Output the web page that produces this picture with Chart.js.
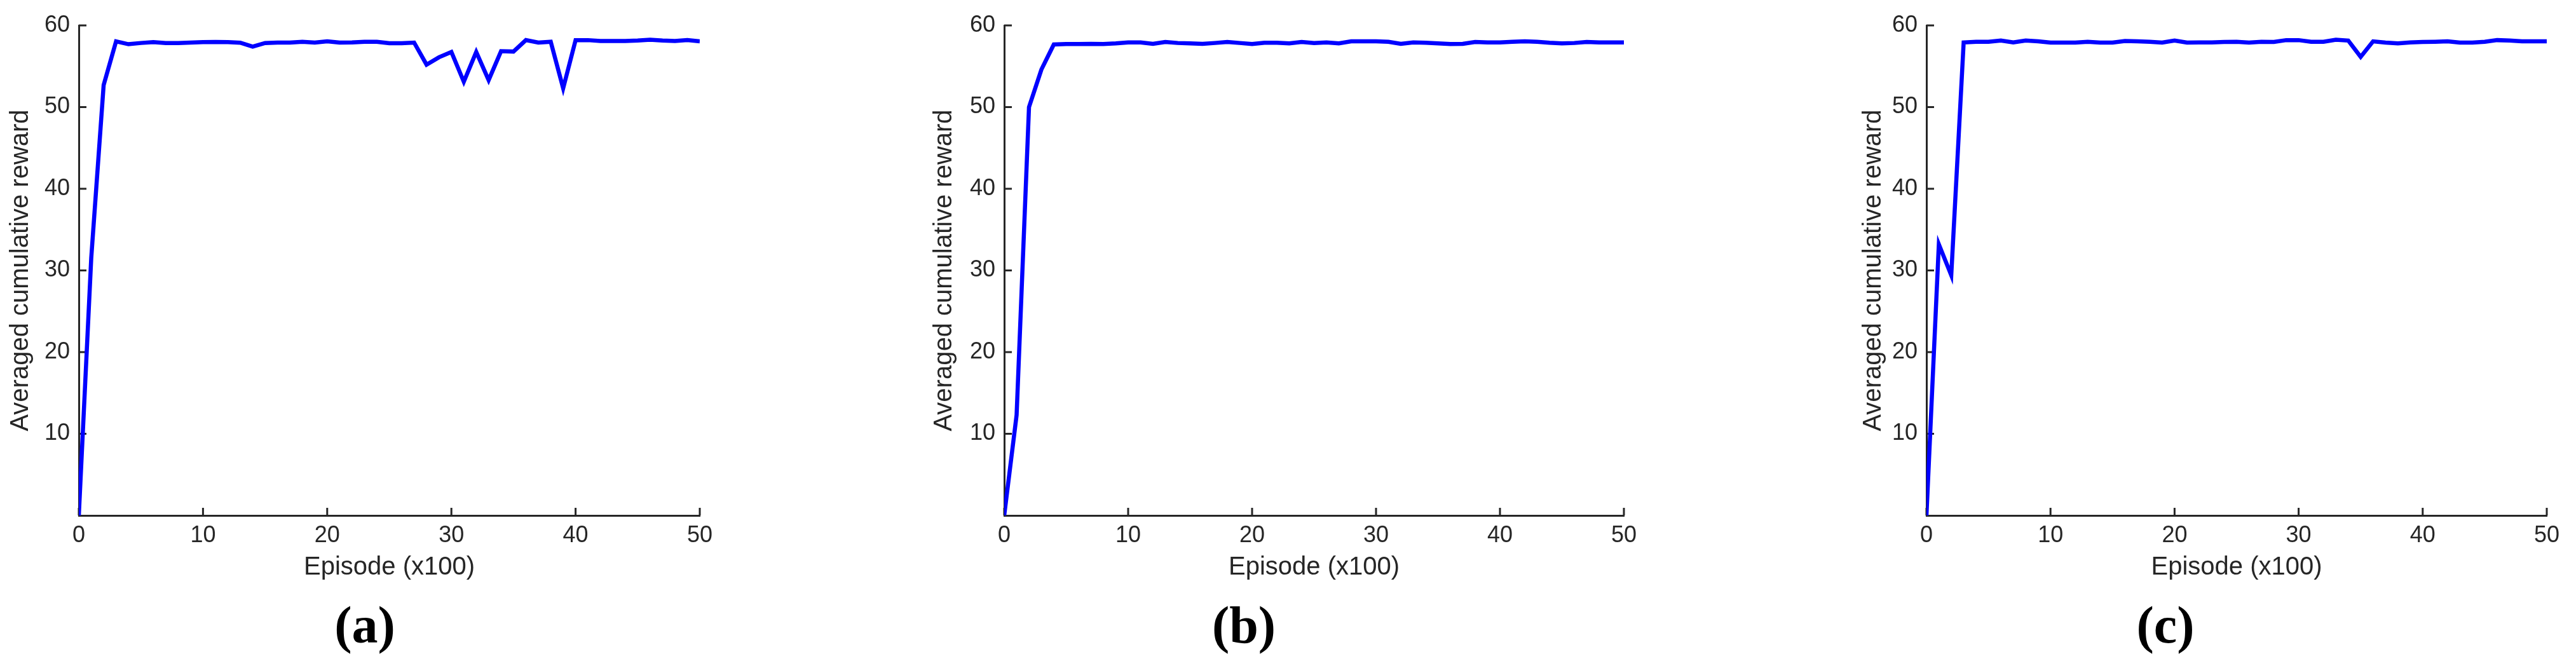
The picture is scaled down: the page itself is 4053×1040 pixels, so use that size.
<!DOCTYPE html>
<html>
<head>
<meta charset="utf-8">
<script src="https://cdn.jsdelivr.net/npm/chart.js@4.4.1/dist/chart.umd.min.js"></script>
<style>
  html, body { margin: 0; padding: 0; background: #fff; }
  #page { position: relative; width: 4053px; height: 1040px; overflow: hidden; }
  canvas { position: absolute; top: 0; }
  .caption {
    position: absolute; top: 934px; width: 200px; margin-left: -100px;
    text-align: center; font-family: "Liberation Serif", "Times New Roman", serif;
    font-weight: bold; font-size: 82px; line-height: 100px; color: #000;
  }
</style>
</head>
<body>
<div id="page">
  <canvas id="chartA" width="1180" height="1040" style="left:0px"></canvas>
  <canvas id="chartB" width="1180" height="1040" style="left:1420px"></canvas>
  <canvas id="chartC" width="1183" height="1040" style="left:2870px"></canvas>
  <div class="caption" style="left:574px">(a)</div>
  <div class="caption" style="left:1957px">(b)</div>
  <div class="caption" style="left:3407px">(c)</div>
</div>
<script>
// episode index, in units of 100 episodes
const episodes = [0, 1, 2, 3, 4, 5, 6, 7, 8, 9, 10, 11, 12, 13, 14, 15, 16, 17, 18, 19, 20,
  21, 22, 23, 24, 25, 26, 27, 28, 29, 30, 31, 32, 33, 34, 35, 36, 37, 38, 39, 40,
  41, 42, 43, 44, 45, 46, 47, 48, 49, 50];

const rewardA = [0, 31.5, 52.7, 58.05, 57.7, 57.85, 57.95, 57.85, 57.85, 57.9, 57.95,
  57.97, 57.95, 57.88, 57.4, 57.85, 57.9, 57.9, 58.0, 57.9, 58.05,
  57.9, 57.92, 58.0, 58.0, 57.82, 57.82, 57.9, 55.2, 56.1, 56.75,
  53.1, 56.75, 53.3, 56.85, 56.8, 58.2, 57.9, 58.0, 52.3, 58.2,
  58.2, 58.1, 58.1, 58.1, 58.15, 58.25, 58.15, 58.1, 58.2, 58.05];

const rewardB = [0, 12.3, 50.0, 54.6, 57.67, 57.72, 57.72, 57.75, 57.72, 57.8, 57.92,
  57.92, 57.75, 57.98, 57.85, 57.8, 57.75, 57.85, 57.98, 57.85, 57.72,
  57.88, 57.88, 57.8, 57.98, 57.85, 57.92, 57.8, 58.05, 58.05, 58.05,
  58.0, 57.75, 57.92, 57.88, 57.8, 57.72, 57.75, 57.98, 57.92, 57.92,
  58.0, 58.05, 58.0, 57.88, 57.8, 57.85, 57.98, 57.92, 57.92, 57.92];

const rewardC = [0, 33.2, 29.4, 57.92, 58.0, 58.0, 58.15, 57.92, 58.15, 58.05, 57.9,
  57.9, 57.9, 58.0, 57.9, 57.9, 58.1, 58.05, 58.0, 57.9, 58.15,
  57.9, 57.92, 57.92, 57.98, 58.0, 57.9, 58.0, 57.98, 58.2, 58.2,
  58.0, 58.0, 58.25, 58.15, 56.15, 58.05, 57.9, 57.8, 57.92, 57.98,
  58.0, 58.05, 57.9, 57.9, 58.0, 58.2, 58.15, 58.05, 58.05, 58.05];

const xTicks = [0, 10, 20, 30, 40, 50];
const yTicks = [10, 20, 30, 40, 50, 60];
const xTitle = "Episode (x100)";
const yTitle = "Averaged cumulative reward";

const axisColor = "#262626";
const lineColor = "#0000ff";
const TITLE_SIZE = 40;
const TICK_SIZE = 36;
const PLOT_TOP = 40;
const PLOT_BOTTOM = 811;
const X_AXIS_HEIGHT = 106;

Chart.defaults.font.family = "'Liberation Sans', Arial, sans-serif";
Chart.defaults.color = axisColor;

// MATLAB style ticks pointing into the plot
const inwardTicks = {
  id: "inwardTicks",
  beforeDatasetsDraw(chart) {
    const { ctx, chartArea, scales } = chart;
    const len = 12;
    ctx.save();
    ctx.strokeStyle = axisColor;
    ctx.lineWidth = 3;
    ctx.beginPath();
    xTicks.forEach((v) => {
      const px = scales.x.getPixelForValue(v);
      ctx.moveTo(px, chartArea.bottom);
      ctx.lineTo(px, chartArea.bottom - len);
    });
    yTicks.forEach((v) => {
      const py = scales.y.getPixelForValue(v);
      ctx.moveTo(chartArea.left, py);
      ctx.lineTo(chartArea.left + len, py);
    });
    ctx.stroke();
    ctx.restore();
  },
};

function makePanel(id, values, yTitleX, plotLeft, plotRight) {
  const canvas = document.getElementById(id);
  const titleHalf = (TITLE_SIZE * 1.2) / 2;
  const padLeft = yTitleX - titleHalf;
  const yWidth = plotLeft - padLeft;

  return new Chart(canvas, {
    type: "line",
    data: {
      datasets: [
        {
          data: episodes.map((e, i) => ({ x: e, y: values[i] })),
          borderColor: lineColor,
          borderWidth: 6.5,
          pointRadius: 0,
          tension: 0,
          fill: false,
        },
      ],
    },
    options: {
      responsive: false,
      animation: false,
      events: [],
      layout: {
        padding: {
          left: padLeft,
          right: canvas.width - plotRight,
          top: PLOT_TOP,
          bottom: canvas.height - PLOT_BOTTOM - X_AXIS_HEIGHT,
        },
      },
      plugins: { legend: { display: false }, tooltip: { enabled: false } },
      scales: {
        x: {
          type: "linear",
          min: 0,
          max: 50,
          afterBuildTicks: (scale) => { scale.ticks = xTicks.map((v) => ({ value: v })); },
          afterFit: (scale) => { scale.height = X_AXIS_HEIGHT; },
          grid: { display: false, drawTicks: false },
          border: { display: true, color: axisColor, width: 3 },
          ticks: { font: { size: TICK_SIZE }, padding: 10, maxRotation: 0 },
          title: { display: true, text: xTitle, font: { size: TITLE_SIZE }, padding: 0 },
        },
        y: {
          type: "linear",
          min: 0,
          max: 60,
          afterBuildTicks: (scale) => { scale.ticks = yTicks.map((v) => ({ value: v })); },
          afterFit: (scale) => { scale.width = yWidth; },
          grid: { display: false, drawTicks: false },
          border: { display: true, color: axisColor, width: 3 },
          ticks: { font: { size: TICK_SIZE }, padding: 14 },
          title: { display: true, text: yTitle, font: { size: TITLE_SIZE }, padding: 0 },
        },
      },
    },
    plugins: [inwardTicks],
  });
}

makePanel("chartA", rewardA, 33, 124, 1101);
makePanel("chartB", rewardB, 1486 - 1420, 1580 - 1420, 2555 - 1420);
makePanel("chartC", rewardC, 2948 - 2870, 3031 - 2870, 4007 - 2870);
</script>
</body>
</html>
